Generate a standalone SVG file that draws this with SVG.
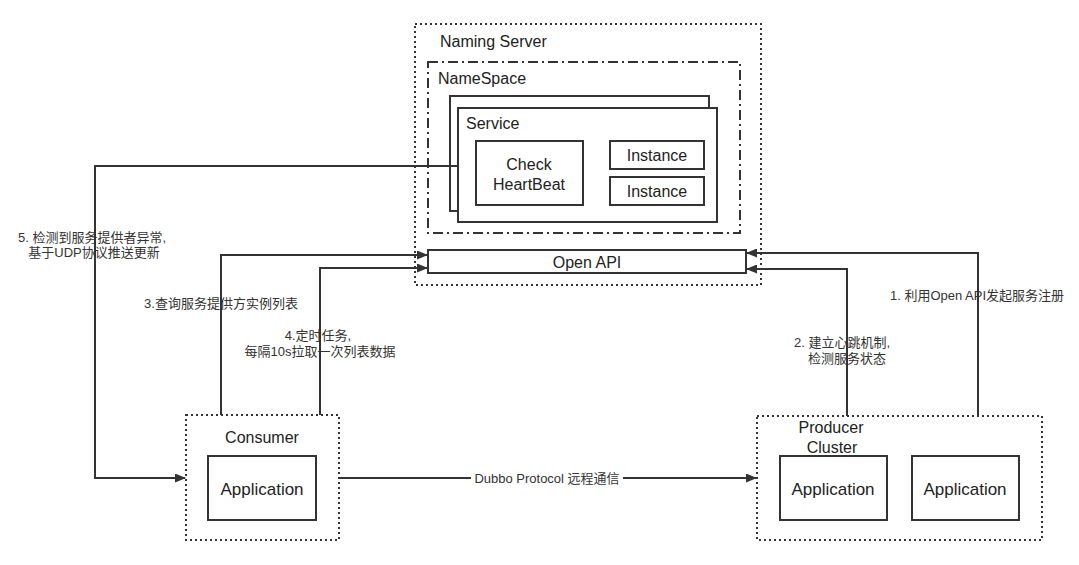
<svg xmlns="http://www.w3.org/2000/svg" width="1079" height="565" viewBox="0 0 1079 565">
<defs>
<marker id="arr" markerWidth="11" markerHeight="9" refX="10" refY="4.5" orient="auto" markerUnits="userSpaceOnUse">
<path d="M0,0 L11,4.5 L0,9 z" fill="#333"/>
</marker>
<style>
.box{fill:#fff;stroke:#333;stroke-width:2}
.dot{fill:none;stroke:#333;stroke-width:2;stroke-dasharray:2 3}
.dashdot{fill:none;stroke:#333;stroke-width:2;stroke-dasharray:10 4 2 4}
.t{font-family:"Liberation Sans","Noto Sans CJK SC",sans-serif;font-size:16px;fill:#222}
.app{font-size:17px}
.m{text-anchor:middle}
.lbl{font-family:"Liberation Sans","Noto Sans CJK SC",sans-serif;font-size:13px;fill:#333;text-anchor:middle}
.conn{fill:none;stroke:#333;stroke-width:2}
</style>
</defs>
<rect width="1079" height="565" fill="#fff"/>

<g id="naming-server">
<rect class="dot" x="415" y="24" width="346" height="261"/>
<text class="t" x="440" y="47">Naming Server</text>
</g>
<g id="namespace">
<rect class="dashdot" x="428" y="62" width="312" height="171"/>
<text class="t" x="438" y="84">NameSpace</text>
</g>
<g id="service-back">
<rect class="box" x="450" y="96" width="259" height="115"/>
</g>
<g id="service">
<rect class="box" x="458" y="108" width="259" height="114"/>
<text class="t" x="466" y="129">Service</text>
</g>
<g id="check-heartbeat">
<rect class="box" x="476" y="141" width="107" height="64"/>
<text class="t m" x="529" y="170">Check</text>
<text class="t m" x="529" y="190">HeartBeat</text>
</g>
<g id="instance1">
<rect class="box" x="610" y="141" width="94" height="28"/>
<text class="t m" x="657" y="161">Instance</text>
</g>
<g id="instance2">
<rect class="box" x="610" y="177" width="94" height="28"/>
<text class="t m" x="657" y="197">Instance</text>
</g>
<g id="open-api">
<rect class="box" x="428" y="250" width="318" height="23"/>
<text class="t m" x="587" y="268">Open API</text>
</g>

<g id="consumer">
<rect class="dot" x="186" y="415" width="153" height="125"/>
<text class="t m" x="262" y="443">Consumer</text>
<rect class="box" x="208" y="456" width="108" height="64"/>
<text class="t app m" x="262" y="495">Application</text>
</g>

<g id="producer-cluster">
<rect class="dot" x="757" y="416" width="285" height="124"/>
<text class="t m" x="831" y="433">Producer</text>
<text class="t m" x="832" y="453">Cluster</text>
</g>
<g id="producer-app1">
<rect class="box" x="780" y="456" width="107" height="64"/>
<text class="t app m" x="833" y="495">Application</text>
</g>
<g id="producer-app2">
<rect class="box" x="912" y="456" width="107" height="64"/>
<text class="t app m" x="965" y="495">Application</text>
</g>

<g id="connectors">
<path class="conn" d="M458,166 H95 V478 H185" marker-end="url(#arr)"/>
<path class="conn" d="M221,415 V255 H427" marker-end="url(#arr)"/>
<path class="conn" d="M320,415 V268 H427" marker-end="url(#arr)"/>
<path class="conn" d="M978,416 V253 H747" marker-end="url(#arr)"/>
<path class="conn" d="M847,416 V269 H747" marker-end="url(#arr)"/>
<path class="conn" d="M339,478 H756" marker-end="url(#arr)"/>
<rect x="471" y="470" width="152" height="16" fill="#fff"/>
<text class="lbl" x="547" y="483">Dubbo Protocol 远程通信</text>
<text class="lbl" x="92" y="242">5. 检测到服务提供者异常,</text>
<text class="lbl" x="94" y="257">基于UDP协议推送更新</text>
<text class="lbl" x="221" y="308">3.查询服务提供方实例列表</text>
<text class="lbl" x="318" y="340">4.定时任务,</text>
<text class="lbl" x="320" y="356">每隔10s拉取一次列表数据</text>
<text class="lbl" x="977" y="300">1. 利用Open API发起服务注册</text>
<text class="lbl" x="842" y="347">2. 建立心跳机制,</text>
<text class="lbl" x="847" y="363">检测服务状态</text>
</g>
</svg>
